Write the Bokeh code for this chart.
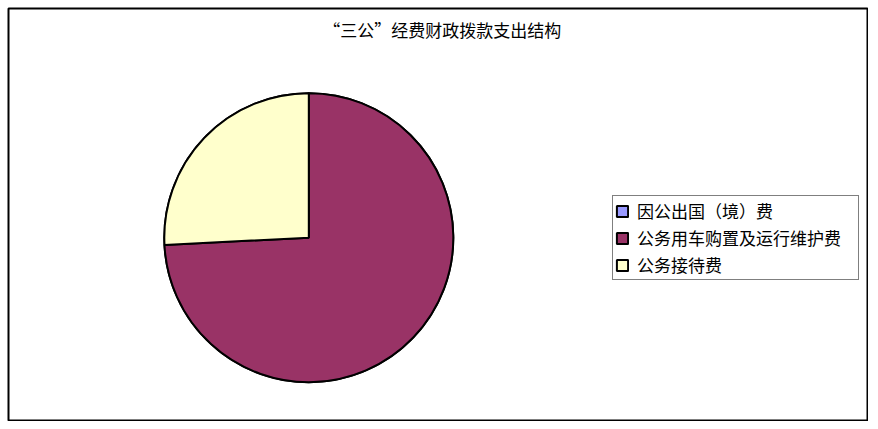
import math
from bokeh.plotting import figure
from bokeh.models import Range1d, Legend, LegendItem, Label, ColumnDataSource
from bokeh.embed import file_html
from bokeh.resources import INLINE

title_text = "“三公”经费财政拨款支出结构"
categories = ["因公出国（境）费", "公务用车购置及运行维护费", "公务接待费"]
shares = [0.0, 74.2, 25.8]
colors = ["#9999FF", "#993366", "#FFFFCC"]

W, H = 860, 413
OFF = 8
FONT = "Noto Sans CJK SC"

total = sum(shares)
starts, ends = [], []
cum = 0.0
for v in shares:
    starts.append(math.pi / 2 - cum / total * 2 * math.pi)
    cum += v
    ends.append(math.pi / 2 - cum / total * 2 * math.pi)

src = ColumnDataSource(dict(cat=categories, val=shares, start=starts, end=ends, color=colors))

p = figure(width=W + OFF, height=H + OFF, output_backend="svg", toolbar_location=None,
           x_range=Range1d(0, W), y_range=Range1d(0, H),
           x_axis_type=None, y_axis_type=None,
           min_border_left=OFF, min_border_top=OFF,
           min_border_right=0, min_border_bottom=0,
           background_fill_color="white", border_fill_color="white")
p.grid.visible = False
p.outline_line_color = "black"
p.outline_line_width = 2

cx, cy, r = 300.3, H - 229.2, 144.5
wr = p.wedge(x=cx, y=cy, radius=r, start_angle="start", end_angle="end",
             direction="clock", fill_color="color", line_color="black",
             line_width=2, source=src)

items = [LegendItem(label=c, renderers=[wr], index=i) for i, c in enumerate(categories)]
legend = Legend(items=items, location=(604, 141),
                label_text_font=FONT, label_text_font_size="17px",
                label_text_color="black", label_height=20, label_width=219,
                glyph_width=14, glyph_height=14, spacing=2, padding=2,
                label_standoff=8, margin=0,
                border_line_color="black", border_line_width=1,
                background_fill_color="white", background_fill_alpha=1)
p.add_layout(legend)

p.add_layout(Label(x=433.7, y=H - 21, text=title_text, text_align="center",
                   text_baseline="middle", text_font=FONT,
                   text_font_size="17px", text_color="black"))

open("out.html", "w").write(file_html(p, INLINE))
